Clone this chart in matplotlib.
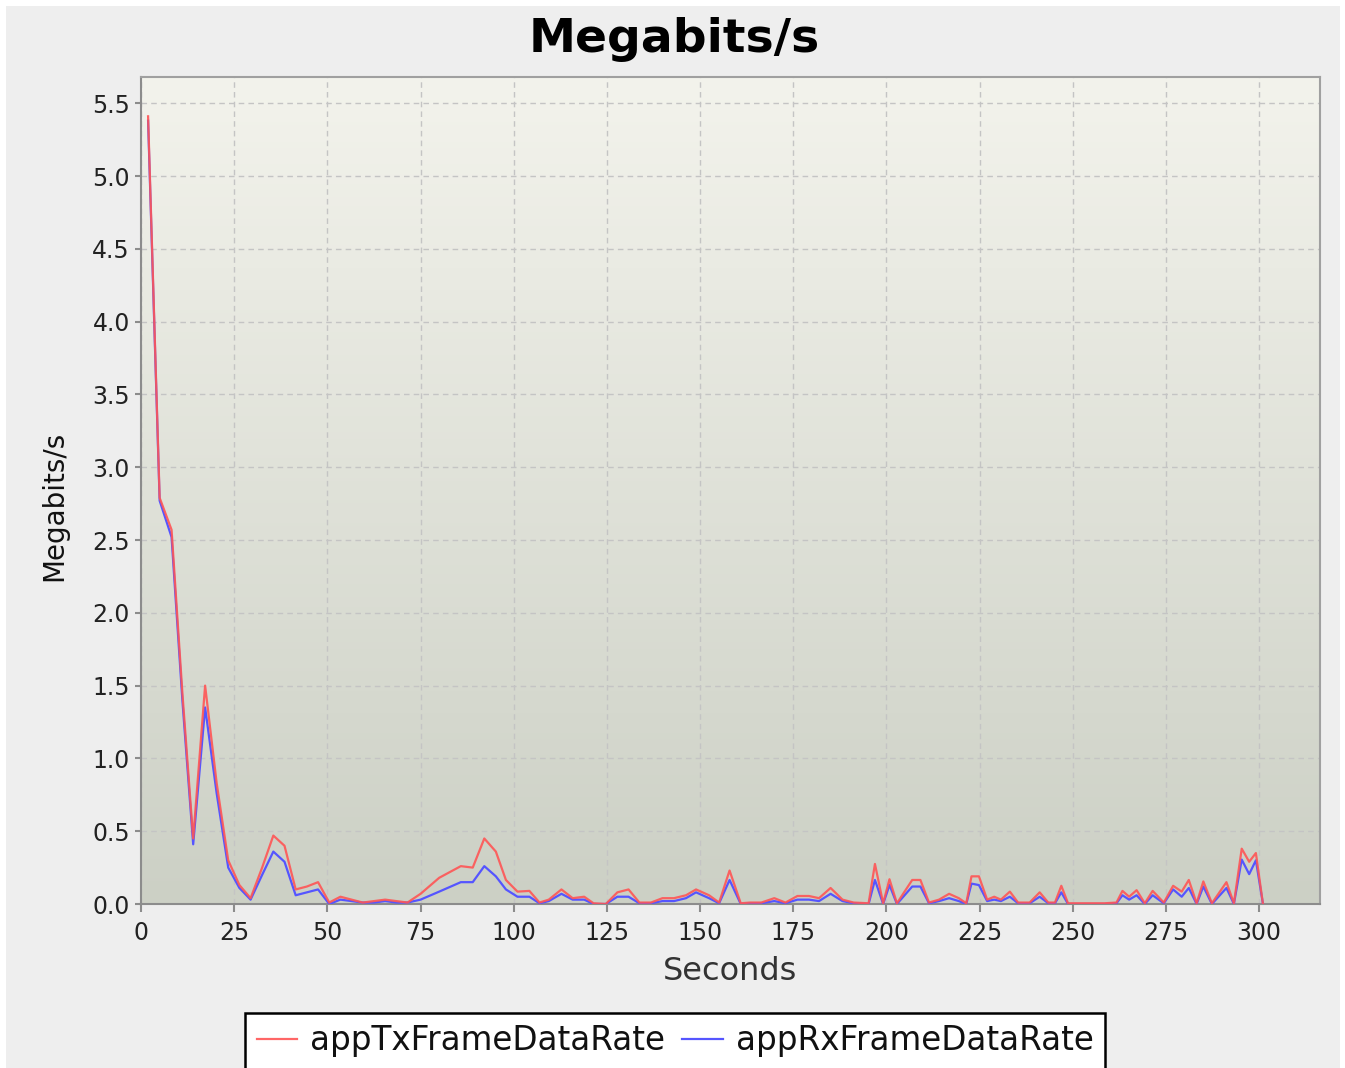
import numpy as np
import matplotlib
matplotlib.use('Agg')
import matplotlib.pyplot as plt
from matplotlib.patches import Rectangle

# Sample times (s)
seconds = [1.9, 5.0, 8.2, 11.1, 14.0, 17.2, 20.3, 23.4, 26.4, 29.4,
           32.5, 35.5, 38.5, 41.5, 44.5, 47.5, 50.5, 53.5, 56.5, 59.5,
           62.5, 65.5, 68.5, 71.5, 75.0, 80.0, 85.8, 89.0, 92.1, 95.2,
           97.9, 101.0, 104.2, 106.9, 109.4, 112.8, 115.8, 118.9, 121.4, 124.7,
           127.8, 130.8, 133.7, 136.8, 139.9, 143.0, 146.2, 148.9, 152.4, 155.1,
           157.9, 160.9, 163.4, 166.4, 169.9, 172.9, 176.1, 179.2, 181.9, 185.0,
           188.2, 191.2, 195.2, 196.9, 199.1, 200.8, 202.8, 206.9, 209.1, 211.4,
           214.1, 216.8, 219.4, 221.4, 222.8, 224.8, 227.0, 228.9, 230.7, 233.1,
           235.3, 238.4, 241.1, 243.4, 245.2, 246.9, 248.7, 252.0, 255.0, 258.5,
           261.7, 263.3, 265.1, 267.1, 269.3, 271.4, 274.4, 276.9, 279.2, 281.1,
           283.2, 285.0, 287.3, 291.2, 293.2, 295.3, 297.3, 299.1, 301.0]

tx_rate = [5.41, 2.79, 2.57, 1.45, 0.45, 1.50, 0.83, 0.30, 0.13, 0.04,
           0.25, 0.47, 0.40, 0.10, 0.12, 0.15, 0.01, 0.05, 0.03, 0.01,
           0.02, 0.03, 0.02, 0.01, 0.07, 0.18, 0.26, 0.25, 0.45, 0.36,
           0.165, 0.085, 0.09, 0.01, 0.03, 0.10, 0.04, 0.05, 0.005, 0.0,
           0.08, 0.10, 0.01, 0.01, 0.04, 0.04, 0.06, 0.10, 0.06, 0.01,
           0.23, 0.005, 0.01, 0.01, 0.04, 0.01, 0.055, 0.055, 0.04, 0.11,
           0.03, 0.01, 0.005, 0.275, 0.005, 0.17, 0.005, 0.165, 0.165, 0.01,
           0.03, 0.07, 0.04, 0.005, 0.19, 0.19, 0.03, 0.05, 0.03, 0.085,
           0.01, 0.01, 0.08, 0.01, 0.01, 0.125, 0.005, 0.005, 0.005, 0.005,
           0.01, 0.09, 0.05, 0.095, 0.005, 0.09, 0.01, 0.125, 0.085, 0.165,
           0.005, 0.155, 0.005, 0.15, 0.005, 0.38, 0.29, 0.35, 0.0]

rx_rate = [5.38, 2.77, 2.52, 1.40, 0.41, 1.35, 0.76, 0.25, 0.11, 0.03,
           0.20, 0.36, 0.29, 0.06, 0.08, 0.10, 0.00, 0.03, 0.02, 0.01,
           0.01, 0.02, 0.01, 0.01, 0.03, 0.085, 0.15, 0.15, 0.26, 0.19,
           0.10, 0.05, 0.05, 0.005, 0.02, 0.07, 0.03, 0.03, 0.0, 0.0,
           0.05, 0.05, 0.005, 0.005, 0.02, 0.02, 0.04, 0.08, 0.04, 0.005,
           0.165, 0.0, 0.005, 0.005, 0.02, 0.005, 0.03, 0.03, 0.02, 0.07,
           0.02, 0.005, 0.0, 0.165, 0.0, 0.13, 0.0, 0.12, 0.12, 0.005,
           0.02, 0.04, 0.02, 0.0, 0.14, 0.13, 0.02, 0.03, 0.02, 0.05,
           0.005, 0.005, 0.05, 0.005, 0.005, 0.08, 0.0, 0.0, 0.0, 0.0,
           0.005, 0.06, 0.03, 0.06, 0.0, 0.06, 0.005, 0.10, 0.05, 0.11,
           0.0, 0.12, 0.0, 0.11, 0.0, 0.305, 0.205, 0.30, 0.0]

x_ticks = list(range(0, 301, 25))
y_ticks = [0.0, 0.5, 1.0, 1.5, 2.0, 2.5, 3.0, 3.5, 4.0, 4.5, 5.0, 5.5]

W, H = 1345, 1068
fig = plt.figure(figsize=(W / 100, H / 100), dpi=100, facecolor='white')
# grey panel with thin white margin like the screenshot
fig.patches.append(Rectangle((6 / W, 0), 1334 / W, 1062 / H, transform=fig.transFigure,
                             facecolor='#EEEEEE', edgecolor='none', zorder=-10))

ax = fig.add_axes([141 / W, 1 - 904 / H, (1320 - 141) / W, (904 - 77) / H])
xmax, ymax = 316.3, 5.68

# vertical gradient background of the plot area
top_c = np.array([243, 243, 236]) / 255
bot_c = np.array([204, 208, 197]) / 255
grad = np.linspace(0, 1, 256)[:, None]
img = top_c[None, None, :] * (1 - grad[:, :, None]) + bot_c[None, None, :] * grad[:, :, None]
ax.imshow(img, extent=[0, xmax, 0, ymax], aspect='auto', origin='upper', zorder=0)

ax.plot(seconds, rx_rate, color='#5555FF', lw=1.6, zorder=3, label='appRxFrameDataRate')
ax.plot(seconds, tx_rate, color='#FF5555', lw=1.6, zorder=4, alpha=0.9, label='appTxFrameDataRate')

ax.set_xlim(0, xmax)
ax.set_ylim(0, ymax)
ax.set_xticks(x_ticks)
ax.set_yticks(y_ticks)
ax.set_yticklabels([f'{v:.1f}' for v in y_ticks])
ax.grid(True, color='#C4C4C4', lw=1.0, linestyle=(0, (4, 3)))
ax.set_axisbelow(True)

for s in ax.spines.values():
    s.set_color('#A0A0A0')
    s.set_linewidth(1.5)
ax.spines['left'].set_color('#8C8C8C')
ax.spines['bottom'].set_color('#8C8C8C')
ax.tick_params(axis='both', labelsize=17, colors='#8C8C8C', labelcolor='#222222', width=1.5)
ax.tick_params(axis='x', length=6, pad=6)
ax.tick_params(axis='y', length=4, pad=4)

ax.set_xlabel('Seconds', fontsize=23, color='#333333', labelpad=8)
ax.set_ylabel('Megabits/s', fontsize=20, color='#111111')
ax.yaxis.set_label_coords(-0.062, 0.482)
fig.text(674 / W, 1 - 39 / H, 'Megabits/s', fontsize=34, fontweight='bold',
         ha='center', va='center', color='black')

handles, labels = ax.get_legend_handles_labels()
leg = fig.legend(handles[::-1], labels[::-1], loc='upper center',
                 bbox_to_anchor=(675 / W, 1 - 1013 / H), ncol=2, fontsize=23.5,
                 frameon=True, fancybox=False, edgecolor='black', facecolor='white',
                 framealpha=1, handlelength=1.25, handletextpad=0.4, columnspacing=0.5,
                 borderpad=0.35, borderaxespad=0)
leg.get_frame().set_linewidth(1.8)
for t in leg.get_texts():
    t.set_color('#111111')

fig.savefig('out.png', dpi=100)
